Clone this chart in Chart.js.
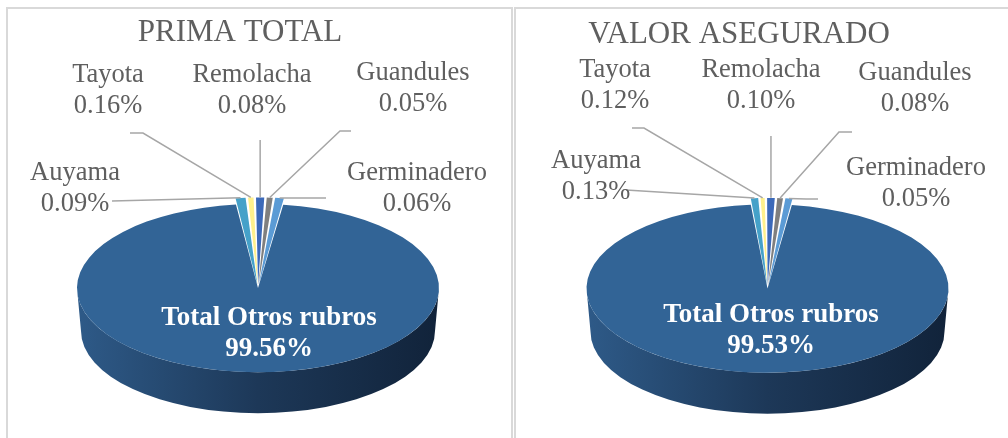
<!DOCTYPE html>
<html>
<head>
<meta charset="utf-8">
<script src="https://cdn.jsdelivr.net/npm/chart.js@4"></script>
<style>
  html, body { margin: 0; padding: 0; background: #fff; }
  body { width: 1008px; height: 438px; position: relative; overflow: hidden; }
  .panel { position: absolute; top: 7px; height: 460px; box-sizing: border-box; border: 2px solid #d9d9d9; border-bottom: none; }
  canvas { position: absolute; top: 0; }
</style>
</head>
<body>
<div class="panel" style="left:6px;width:507px"></div>
<div class="panel" style="left:514px;width:500px"></div>
<canvas id="prima" width="512" height="438" style="left:0"></canvas>
<canvas id="valor" width="496" height="438" style="left:512px"></canvas>
<script>
const categories = ["Auyama", "Tayota", "Remolacha", "Guandules", "Germinadero", "Total Otros rubros"];

// percentages printed on the labels
const primaPct = [0.09, 0.16, 0.08, 0.05, 0.06, 99.56];
const valorPct = [0.13, 0.12, 0.10, 0.08, 0.05, 99.53];

// slice sizes as drawn in the picture (the small slices are drawn wider than their printed share)
const primaSlice = [1.03, 0.65, 0.88, 0.69, 0.92, 95.83];
const valorSlice = [0.81, 0.53, 0.83, 0.67, 0.78, 96.38];

const sliceColors = ["#45a1c9", "#fff08c", "#3b69b9", "#7f7f7f", "#5b9bd5", "#326496"];
const SQUASH = 0.465;
const DEPTH = 43;

const pie3d = {
  id: "pie3d",
  beforeDatasetsDraw(chart) {
    const arc = chart.getDatasetMeta(0).data[0];
    const { x, y, outerRadius: r } = arc;
    const ctx = chart.ctx;
    const grad = ctx.createLinearGradient(x - r, 0, x + r, 0);
    grad.addColorStop(0, "#2e5a88");
    grad.addColorStop(0.5, "#1d3858");
    grad.addColorStop(1, "#11233a");
    ctx.save();
    ctx.beginPath();
    ctx.ellipse(x, y, r, r * SQUASH, 0, 0, Math.PI);
    ctx.ellipse(x, y + DEPTH, r - 4, r * SQUASH - 2, 0, Math.PI, 0, true);
    ctx.closePath();
    ctx.fillStyle = grad;
    ctx.fill();
    ctx.restore();
    // squash the pie into the top face
    ctx.save();
    ctx.translate(x, y);
    ctx.scale(1, SQUASH);
    ctx.translate(-x, -y);
  },
  afterDatasetsDraw(chart) {
    chart.ctx.restore();
  }
};

const pieLabels = {
  id: "pieLabels",
  afterDraw(chart, args, opts) {
    const ctx = chart.ctx;
    const arcs = chart.getDatasetMeta(0).data;
    ctx.save();
    ctx.textAlign = "center";
    ctx.textBaseline = "alphabetic";
    ctx.fillStyle = "#5f5f5f";
    ctx.font = '31px "Liberation Serif"';
    ctx.fillText(opts.title.text, opts.title.x, opts.title.y);

    ctx.strokeStyle = "#a6a6a6";
    ctx.lineWidth = 1.5;
    opts.spots.forEach((spot, i) => {
      const arc = arcs[i];
      const mid = (arc.startAngle + arc.endAngle) / 2;
      const rr = arc.outerRadius + (arc.options.offset || 0) / 2;
      const px = arc.x + Math.cos(mid) * rr;
      const py = arc.y + Math.sin(mid) * rr * SQUASH;
      if (spot.line === "up") {
        ctx.beginPath();
        ctx.moveTo(px, spot.top);
        ctx.lineTo(px, py);
        ctx.stroke();
      } else if (spot.line) {
        ctx.beginPath();
        ctx.moveTo(spot.line[0][0], spot.line[0][1]);
        spot.line.slice(1).forEach((p) => ctx.lineTo(p[0], p[1]));
        ctx.lineTo(px, py);
        ctx.stroke();
      }
      const value = opts.pct[i].toFixed(2) + "%";
      if (spot.inside) {
        ctx.fillStyle = "#ffffff";
        ctx.font = 'bold 27px "Liberation Serif"';
      } else {
        ctx.fillStyle = "#5f5f5f";
        ctx.font = '26.5px "Liberation Serif"';
      }
      ctx.fillText(categories[i], spot.x, spot.y);
      ctx.fillText(value, spot.x, spot.y + 31);
    });
    ctx.restore();
  }
};

const makePie = (id, slices, pct, rotation, padding, labelOpts) => {
  new Chart(document.getElementById(id), {
    type: "pie",
    data: {
      labels: categories,
      datasets: [
        {
          data: slices,
          backgroundColor: sliceColors,
          borderWidth: 0,
          offset: [28, 28, 28, 28, 28, 0],
          clip: false
        }
      ]
    },
    options: {
      responsive: false,
      animation: false,
      events: [],
      rotation: rotation,
      radius: 181,
      layout: { padding: padding },
      plugins: {
        legend: { display: false },
        tooltip: { enabled: false },
        pieLabels: Object.assign({ pct: pct }, labelOpts)
      }
    },
    plugins: [pie3d, pieLabels]
  });
};

makePie("prima", primaSlice, primaPct, -7, { left: 4, right: 0, top: 138, bottom: 0 }, {
  title: { text: "PRIMA TOTAL", x: 240, y: 41 },
  spots: [
    { x: 75, y: 180, line: [[112, 201]] },
    { x: 108, y: 82, line: [[130, 133], [143, 133]] },
    { x: 252, y: 82, line: "up", top: 140 },
    { x: 413, y: 80, line: [[351, 131], [340, 131]] },
    { x: 417, y: 180, line: [[326, 198], [315, 198]] },
    { x: 269, y: 325, inside: true }
  ]
});

makePie("valor", valorSlice, valorPct, -5.3, { left: 15, right: 0, top: 139, bottom: 0 }, {
  title: { text: "VALOR ASEGURADO", x: 227, y: 43 },
  spots: [
    { x: 84, y: 168, line: [[114, 190]] },
    { x: 103, y: 77, line: [[120, 128], [132, 128]] },
    { x: 249, y: 77, line: "up", top: 136 },
    { x: 403, y: 80, line: [[340, 132], [327, 132]] },
    { x: 404, y: 175, line: [[306, 199], [294, 199]] },
    { x: 259, y: 322, inside: true }
  ]
});
</script>
</body>
</html>
